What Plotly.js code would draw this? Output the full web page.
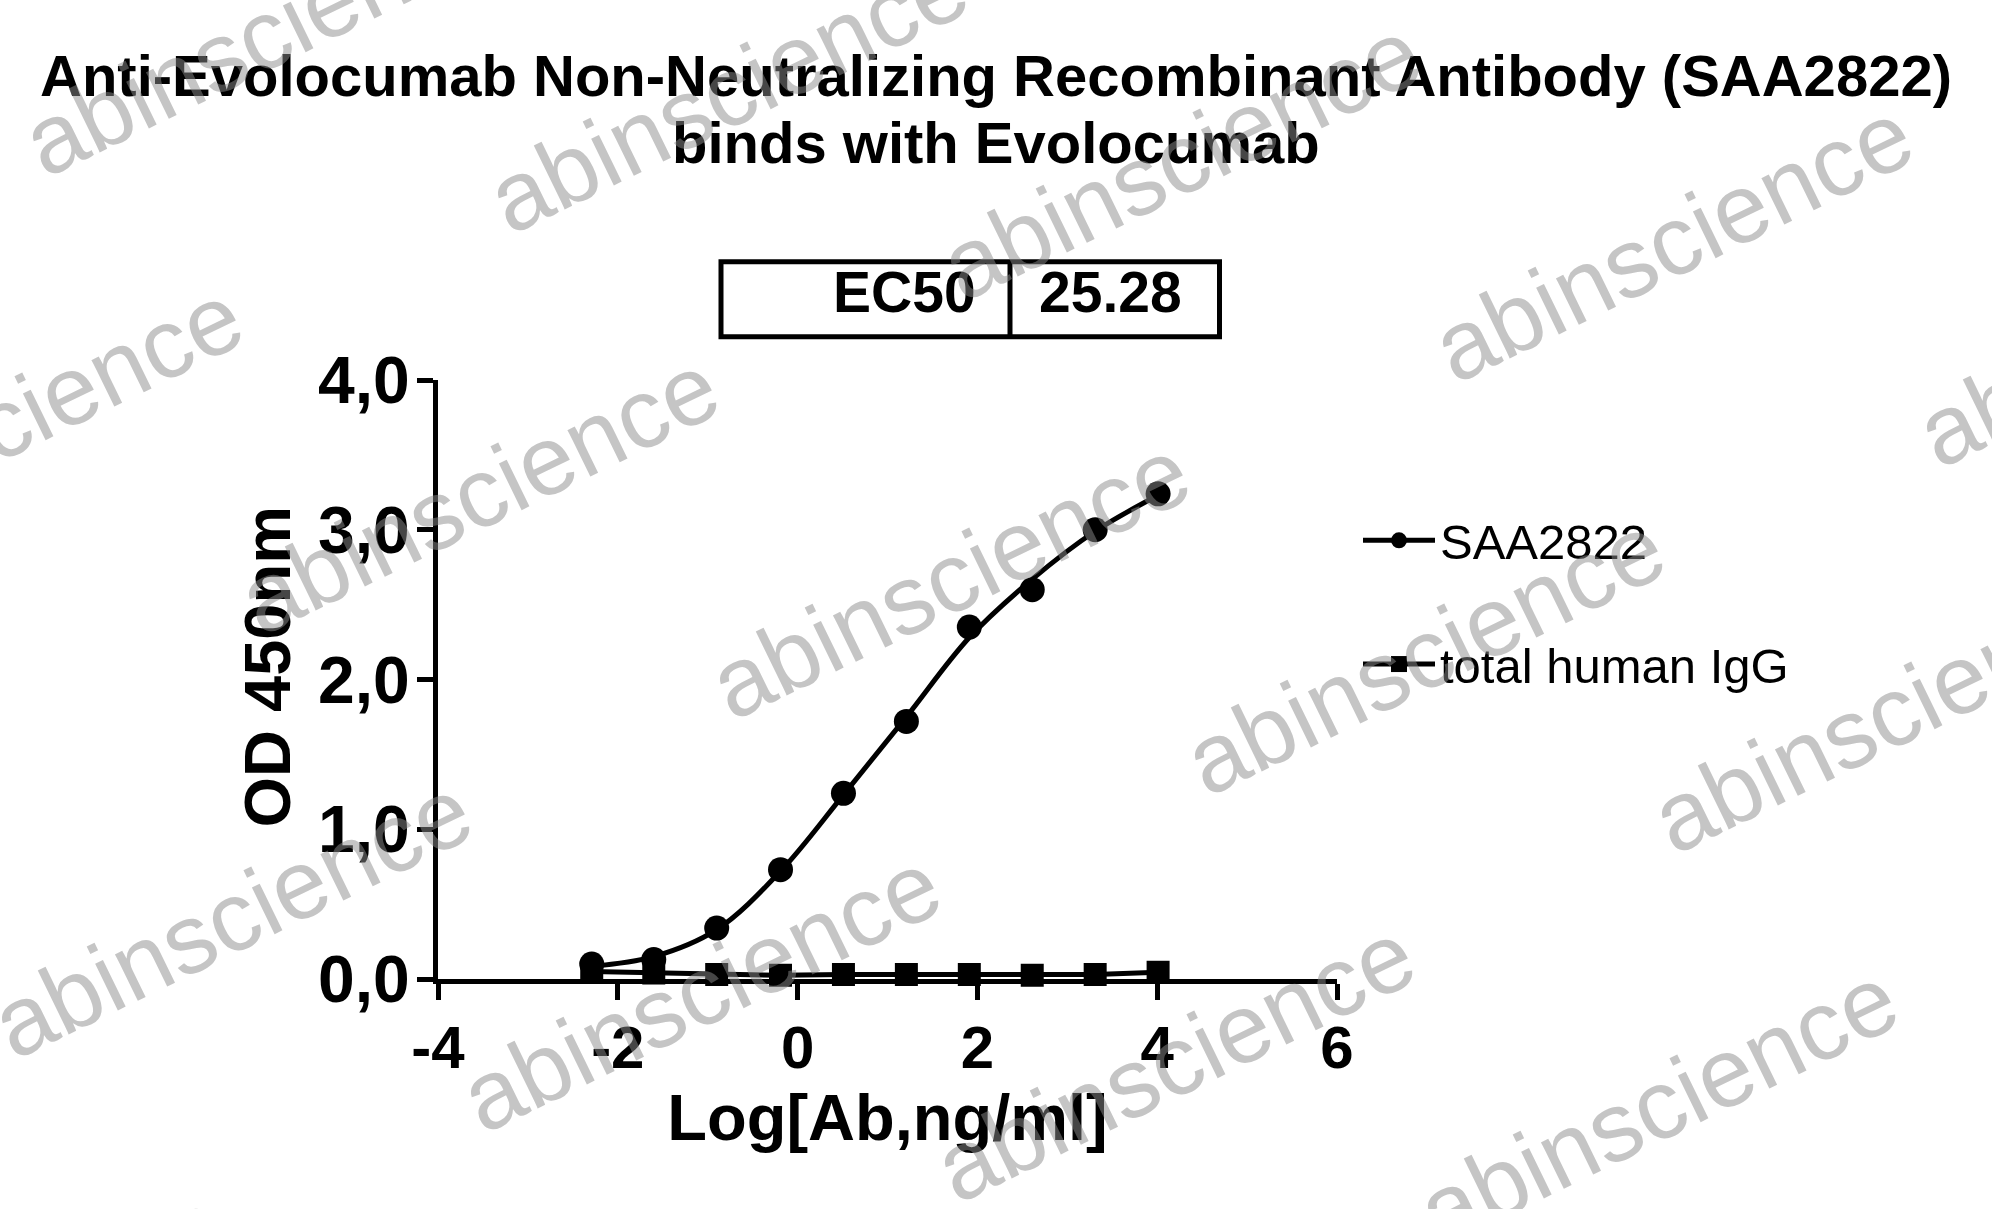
<!DOCTYPE html>
<html>
<head>
<meta charset="utf-8">
<script src="https://cdn.plot.ly/plotly-3.0.1.min.js"></script>
<style>
html,body{margin:0;padding:0;background:#ffffff;}
#chart{width:1992px;height:1209px;}
</style>
</head>
<body>
<div id="chart"></div>
<script>
// ---------------- data ----------------
const logConc      = [-2.29, -1.60, -0.90, -0.19, 0.51, 1.21, 1.91, 2.61, 3.31, 4.01];
const saa2822OD    = [0.10, 0.13, 0.34, 0.73, 1.24, 1.72, 2.35, 2.60, 3.00, 3.24];
const humanIgGOD   = [0.05, 0.04, 0.03, 0.025, 0.03, 0.03, 0.03, 0.025, 0.03, 0.045];
// fitted curve at the same concentrations
const fitLogConc   = [-2.29, -1.60, -0.90, -0.19, 0.51, 1.21, 1.91, 2.61, 3.31, 4.01];
const fitSaa2822OD = [0.085, 0.15, 0.33, 0.72, 1.23, 1.75, 2.28, 2.67, 2.99, 3.23];
const seriesNames  = ['SAA2822', 'total human IgG'];
const xTickVals    = [-4, -2, 0, 2, 4, 6];
const xTickText    = ['-4', '-2', '0', '2', '4', '6'];
const yTickVals    = [0, 1, 2, 3, 4];
const yTickText    = ['0,0', '1,0', '2,0', '3,0', '4,0'];
const ec50Label    = 'EC50';
const ec50Value    = '25.28';
const titleLines   = ['Anti-Evolocumab Non-Neutralizing Recombinant Antibody (SAA2822)', 'binds with Evolocumab'];
const xTitle       = 'Log[Ab,ng/ml]';
const yTitle       = 'OD 450nm';
const watermark    = 'abinscience';

// ---------------- layout helpers ----------------
const W = 1992, H = 1209;
const M = {l: 438, r: 655, t: 380, b: 230};
const PW = W - M.l - M.r, PH = H - M.t - M.b;
const pX = X => (X - M.l) / PW;          // pixel -> paper
const pY = Y => (H - M.b - Y) / PH;
const FONT = '"Liberation Sans", Arial, Helvetica, sans-serif';
const BOLD = (size) => ({family: FONT, size: size, color: '#000', weight: 'bold'});

const traces = [
  { // fitted curve
    x: fitLogConc, y: fitSaa2822OD, type: 'scatter', mode: 'lines',
    line: {color: '#000', width: 5, shape: 'spline', smoothing: 1},
    showlegend: false, hoverinfo: 'skip', cliponaxis: false
  },
  { // measured points
    x: logConc, y: saa2822OD, type: 'scatter', mode: 'markers',
    marker: {symbol: 'circle', size: 25, color: '#000'},
    showlegend: false, cliponaxis: false
  },
  { // legend entry for SAA2822 (line + marker)
    x: [null], y: [null], type: 'scatter', mode: 'lines+markers', name: seriesNames[0],
    line: {color: '#000', width: 5}, marker: {symbol: 'circle', size: 25, color: '#000'},
    legendgroup: 'g1'
  },
  {
    x: logConc, y: humanIgGOD, type: 'scatter', mode: 'lines+markers', name: seriesNames[1],
    line: {color: '#000', width: 5},
    marker: {symbol: 'square', size: 23, color: '#000'},
    legendgroup: 'g2', cliponaxis: false
  }
];

// watermark centres (pixels) - decorative layout only
const wmCentres = [
  [263,35],[728,92],[1181,159],[1673,241],[2157,326],
  [3,423],[479,493],[950,578],[1425,654],[1892,712],
  [232,917],[701,991],[1175,1061],[1658,1105],[-15,1330]
];

const annotations = [
  {text: titleLines[0], xref: 'paper', yref: 'paper', x: pX(996), y: pY(75),
   xanchor: 'center', yanchor: 'middle', showarrow: false, font: BOLD(58)},
  {text: titleLines[1], xref: 'paper', yref: 'paper', x: pX(996), y: pY(142.5),
   xanchor: 'center', yanchor: 'middle', showarrow: false, font: BOLD(58)},
  {text: ec50Label, xref: 'paper', yref: 'paper', x: pX(978), y: pY(292),
   xanchor: 'right', yanchor: 'middle', showarrow: false, font: BOLD(57)},
  {text: ec50Value, xref: 'paper', yref: 'paper', x: pX(1037), y: pY(292),
   xanchor: 'left', yanchor: 'middle', showarrow: false, font: BOLD(57)},
  {text: yTitle, xref: 'paper', yref: 'paper', x: pX(266.5), y: pY(667),
   xanchor: 'center', yanchor: 'middle', showarrow: false, textangle: -90, font: BOLD(65)}
];
wmCentres.forEach(c => annotations.push({
  text: watermark, xref: 'paper', yref: 'paper', x: pX(c[0]), y: pY(c[1]),
  xanchor: 'center', yanchor: 'middle', showarrow: false, textangle: -26,
  font: {family: FONT, size: 98, color: 'rgba(140,140,140,0.5)'}
}));

const shapes = [
  {type: 'rect', xref: 'paper', yref: 'paper', x0: pX(721), x1: pX(1219.5), y0: pY(336.8), y1: pY(261.8),
   line: {color: '#000', width: 5}, fillcolor: 'rgba(0,0,0,0)'},
  {type: 'line', xref: 'paper', yref: 'paper', x0: pX(1010), x1: pX(1010), y0: pY(336.8), y1: pY(261.8),
   line: {color: '#000', width: 5}}
];

const layout = {
  width: W, height: H,
  margin: M,
  paper_bgcolor: '#fff', plot_bgcolor: '#fff',
  font: {family: FONT, color: '#000'},
  xaxis: {
    range: [-4, 6], tickvals: xTickVals, ticktext: xTickText,
    showline: true, linecolor: '#000', linewidth: 5,
    ticks: 'outside', ticklen: 16, tickwidth: 5, tickcolor: '#000',
    tickfont: BOLD(60),
    ticklabelstandoff: -4,
    showgrid: false, zeroline: false, fixedrange: true,
    title: {text: xTitle, standoff: 14, font: BOLD(65)}
  },
  yaxis: {
    range: [0, 4], tickvals: yTickVals, ticktext: yTickText,
    showline: true, linecolor: '#000', linewidth: 5,
    ticks: 'outside', ticklen: 16, tickwidth: 5, tickcolor: '#000',
    tickfont: BOLD(66),
    ticklabelstandoff: -6,
    showgrid: false, zeroline: false, fixedrange: true
  },
  legend: {
    x: pX(1358), xanchor: 'left', y: pY(502), yanchor: 'top',
    font: {family: FONT, size: 49, color: '#000'},
    bgcolor: 'rgba(0,0,0,0)', tracegroupgap: 57, itemwidth: 72, traceorder: 'grouped'
  },
  showlegend: true,
  annotations: annotations,
  shapes: shapes,
  hovermode: false
};

Plotly.newPlot('chart', traces, layout, {displayModeBar: false, staticPlot: true});
</script>
</body>
</html>
